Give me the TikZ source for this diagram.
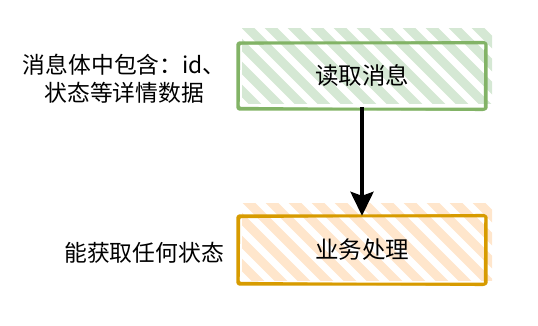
\documentclass[tikz,border=0pt]{standalone}
\usepackage{fontspec}
\setmainfont{Noto Sans CJK SC}
\usetikzlibrary{arrows.meta}
\definecolor{gstroke}{HTML}{82B366}
\definecolor{gfill}{HTML}{D5E8D4}
\definecolor{ostroke}{HTML}{D79B00}
\definecolor{ofill}{HTML}{FFE6CC}
\tikzset{
  lbl/.style={font=\fontsize{22.8}{28}\selectfont, text=black, inner sep=0pt, align=center},
  boxlbl/.style={font=\fontsize{23.5}{28}\selectfont, text=black, inner sep=0pt},
  hatchline/.style={line width=9pt, line cap=round},
  sketchbox/.style={line width=3pt, line join=round, rounded corners=2pt},
  flow/.style={line width=3.6pt, -{Stealth[length=24pt,width=23pt,inset=4pt]}}
}
\begin{document}
\begin{tikzpicture}[x=1pt,y=-1pt]
\useasboundingbox (0,0) rectangle (538,326);
% hatching
\begin{scope}
\clip (242,29) rectangle (492,104);
\foreach \i in {-92,-69,...,290} \draw[hatchline, gfill] (240+\i,20) -- ++(100,100);
\end{scope}
\begin{scope}
\clip (242,203) rectangle (492,280);
\foreach \i in {-92,-69,...,290} \draw[hatchline, ofill] (240+\i,194) -- ++(100,100);
\end{scope}
% boxes
\node[draw=none, minimum width=248pt, minimum height=66pt, inner sep=0pt] (read) at (362,76) {};
\node[draw=none, minimum width=248pt, minimum height=68pt, inner sep=0pt] (proc) at (362,250) {};
\draw[sketchbox, gstroke] (read.north west) rectangle (read.south east);
\draw[sketchbox, gstroke, line width=1.8pt] ([shift={(1.5,1)}]read.north west) -- ([shift={(-1,-1)}]read.north east) -- ([shift={(-1.5,1)}]read.south east) -- ([shift={(1,-1.5)}]read.south west) -- cycle;
\draw[sketchbox, ostroke] (proc.north west) rectangle (proc.south east);
\draw[sketchbox, ostroke, line width=1.8pt] ([shift={(1.5,1.5)}]proc.north west) -- ([shift={(-1,-1)}]proc.north east) -- ([shift={(-1.5,1)}]proc.south east) -- ([shift={(1,-1.5)}]proc.south west) -- cycle;
\node[boxlbl] (readt) at (read.center) {读取消息};
\node[boxlbl] (proct) at (proc.center) {业务处理};
% arrow
\draw[flow] ([yshift=2pt]read.south) -- (proc.north);
% side labels
\node[lbl, anchor=east] (note1) at (226,79) {消息体中包含：id、\\状态等详情数据};
\node[lbl, anchor=east] (note2) at (224,253) {能获取任何状态};
\end{tikzpicture}
\end{document}
